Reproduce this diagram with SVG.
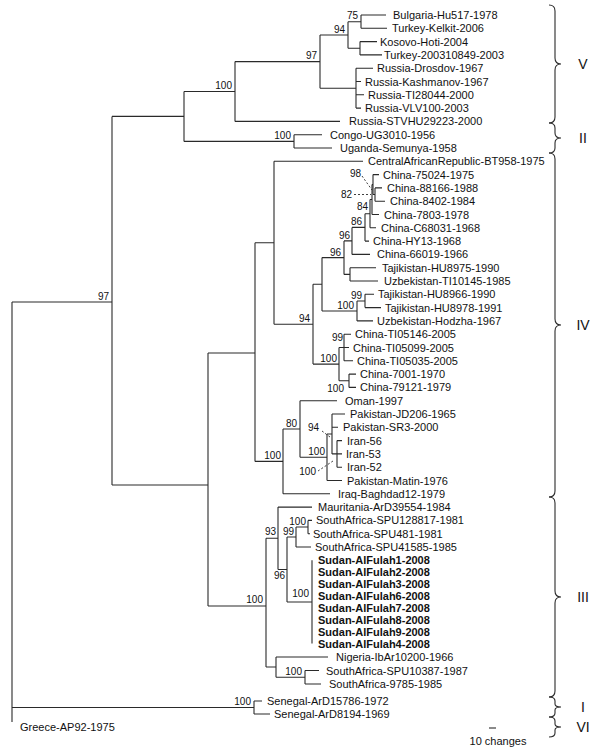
<svg xmlns="http://www.w3.org/2000/svg" width="600" height="749" viewBox="0 0 600 749">
<style>
.br{fill:none;stroke:#2a2a2a;stroke-width:1.1}
.ds{fill:none;stroke:#2a2a2a;stroke-width:0.9;stroke-dasharray:2,2}
.lf{font-family:"Liberation Sans",Arial,sans-serif;font-size:11px;fill:#111}
.bd{font-family:"Liberation Sans",Arial,sans-serif;font-size:11px;font-weight:bold;fill:#111}
.bs{font-family:"Liberation Sans",Arial,sans-serif;font-size:10px;fill:#111;text-anchor:end}
.gl{font-family:"Liberation Sans",Arial,sans-serif;font-size:14px;fill:#111;text-anchor:middle}
.bc{fill:none;stroke:#2a2a2a;stroke-width:1.1}
</style>
<rect width="600" height="749" fill="#fff"/>
<g id="connectors">
<path class="br" d="M12,302V722M12,302H112M12,707.5H254"/>
<path class="br" d="M112,116.4V485M112,116.4H184M112,485H208"/>
<path class="br" d="M184,91.5V141.4M184,91.5H235M184,141.4H294"/>
<path class="br" d="M235,61.6V121.4M235,61.6H320M235,121.4H340"/>
<path class="br" d="M320,35V88.2M320,35H348M320,88.2H356"/>
<path class="br" d="M348,21.7V48.3M348,21.7H361M348,48.3H360"/>
<path class="br" d="M361,15V28.3M361,15H386M361,28.3H387"/>
<path class="br" d="M360,41.6V54.9M360,41.6H377M360,54.9H382"/>
<path class="br" d="M356,68.2V108.1M356,68.2H373M356,81.5H361M356,94.8H364M356,108.1H361"/>
<path class="br" d="M294,134.7V148M294,134.7H322M294,148H332"/>
<path class="br" d="M208,353V606M208,353H255M208,606H266"/>
<path class="br" d="M255,242.8V461.4M255,242.8H274M255,461.4H283"/>
<path class="br" d="M274,161.3V324.2M274,161.3H363M274,324.2H313"/>
<path class="br" d="M313,284.3V364.1M313,284.3H322M313,364.1H339"/>
<path class="br" d="M322,257.6V311M322,257.6H344M322,311H357"/>
<path class="br" d="M344,240.9V274.4M344,240.9H352M344,274.4H350"/>
<path class="br" d="M352,227.4V254.4M352,227.4H365M352,254.4H370"/>
<path class="br" d="M365,213.7V241.1M365,213.7H370M365,241.1H369"/>
<path class="br" d="M370,199.5V227.8M370,199.5H372M370,227.8H376"/>
<path class="br" d="M372,184.6V214.5M372,184.6H373M372,214.5H379"/>
<path class="br" d="M373,174.6V194.5M373,174.6H379M373,194.5H375"/>
<path class="br" d="M375,187.9V201.2M375,187.9H382M375,201.2H385"/>
<path class="br" d="M350,267.7V281M350,267.7H376M350,281H378"/>
<path class="br" d="M357,301V320.9M357,301H365M357,320.9H373"/>
<path class="br" d="M365,294.3V307.6M365,294.3H374M365,307.6H381"/>
<path class="br" d="M339,347.5V380.8M339,347.5H344M339,380.8H349"/>
<path class="br" d="M344,334.2V360.8M344,334.2H351M344,347.5H349M344,360.8H353"/>
<path class="br" d="M349,374.1V387.4M349,374.1H356M349,387.4H356"/>
<path class="br" d="M283,429V493.8M283,429H300M283,493.8H330"/>
<path class="br" d="M300,400.7V457.3M300,400.7H337M300,457.3H327"/>
<path class="br" d="M327,434V480.5M327,434H332M327,480.5H342"/>
<path class="br" d="M332,414V453.9M332,414H345M332,427.3H338M332,453.9H337"/>
<path class="br" d="M337,440.6V467.2M337,440.6H342M337,453.9H342M337,467.2H342"/>
<path class="br" d="M266,538.3V667M266,538.3H278M266,667H276"/>
<path class="br" d="M278,507.1V569.5M278,507.1H312M278,569.5H287"/>
<path class="br" d="M287,537V602M287,537H296M287,602H312"/>
<path class="br" d="M296,527V547M296,527H308M296,547H311"/>
<path class="br" d="M308,520.4V533.7M308,520.4H312M308,533.7H310"/>
<path class="br" d="M312,560.3V643.6"/>
<path class="br" d="M276,657V677.3M276,657H328M276,677.3H305"/>
<path class="br" d="M305,670.5V684M305,670.5H319M305,684H321"/>
<path class="br" d="M254,701V714M254,701H262M254,714H270"/>
<path class="ds" d="M362,176L372,190M354,194.5H371M322,431L330,437M318,471L333,461"/>
<path class="br" d="M489,728H496"/>
</g>
<g id="bootstrap">
<text class="bs" x="109" y="300">97</text>
<text class="bs" x="232" y="89">100</text>
<text class="bs" x="317" y="59">97</text>
<text class="bs" x="345" y="32.5">94</text>
<text class="bs" x="358" y="19">75</text>
<text class="bs" x="291" y="139">100</text>
<text class="bs" x="361" y="177">98</text>
<text class="bs" x="352" y="197.5">82</text>
<text class="bs" x="368" y="210">84</text>
<text class="bs" x="362" y="225">86</text>
<text class="bs" x="350" y="238.5">96</text>
<text class="bs" x="341" y="256">96</text>
<text class="bs" x="362" y="298.5">99</text>
<text class="bs" x="354" y="309">100</text>
<text class="bs" x="310" y="322">94</text>
<text class="bs" x="343" y="341">99</text>
<text class="bs" x="337" y="361.5">100</text>
<text class="bs" x="344" y="391.5">100</text>
<text class="bs" x="281" y="459">100</text>
<text class="bs" x="297" y="427">80</text>
<text class="bs" x="325" y="455">100</text>
<text class="bs" x="319" y="430.5">94</text>
<text class="bs" x="316" y="474.5">100</text>
<text class="bs" x="263" y="603">100</text>
<text class="bs" x="276" y="535">93</text>
<text class="bs" x="294" y="535">99</text>
<text class="bs" x="306" y="525">100</text>
<text class="bs" x="285" y="579">96</text>
<text class="bs" x="309" y="597">100</text>
<text class="bs" x="302" y="675">100</text>
<text class="bs" x="251" y="704.5">100</text>
</g>
<g id="leaf-bulgaria"><text class="lf" x="393" y="19">Bulgaria-Hu517-1978</text></g>
<g id="leaf-turkey-kelkit"><text class="lf" x="392" y="32.3">Turkey-Kelkit-2006</text></g>
<g id="leaf-kosovo"><text class="lf" x="380" y="45.6">Kosovo-Hoti-2004</text></g>
<g id="leaf-turkey-2003"><text class="lf" x="384" y="58.9">Turkey-200310849-2003</text></g>
<g id="leaf-russia-drosdov"><text class="lf" x="377" y="72.2">Russia-Drosdov-1967</text></g>
<g id="leaf-russia-kashmanov"><text class="lf" x="365" y="85.5">Russia-Kashmanov-1967</text></g>
<g id="leaf-russia-ti28044"><text class="lf" x="368" y="98.8">Russia-TI28044-2000</text></g>
<g id="leaf-russia-vlv100"><text class="lf" x="365" y="112.1">Russia-VLV100-2003</text></g>
<g id="leaf-russia-stvhu"><text class="lf" x="349" y="125.4">Russia-STVHU29223-2000</text></g>
<g id="leaf-congo"><text class="lf" x="330" y="138.7">Congo-UG3010-1956</text></g>
<g id="leaf-uganda"><text class="lf" x="340" y="152">Uganda-Semunya-1958</text></g>
<g id="leaf-car"><text class="lf" x="368" y="165.3">CentralAfricanRepublic-BT958-1975</text></g>
<g id="leaf-china-75024"><text class="lf" x="383" y="178.6">China-75024-1975</text></g>
<g id="leaf-china-88166"><text class="lf" x="387" y="191.9">China-88166-1988</text></g>
<g id="leaf-china-8402"><text class="lf" x="390" y="205.2">China-8402-1984</text></g>
<g id="leaf-china-7803"><text class="lf" x="384" y="218.5">China-7803-1978</text></g>
<g id="leaf-china-c68031"><text class="lf" x="381" y="231.8">China-C68031-1968</text></g>
<g id="leaf-china-hy13"><text class="lf" x="373" y="245.1">China-HY13-1968</text></g>
<g id="leaf-china-66019"><text class="lf" x="377" y="258.4">China-66019-1966</text></g>
<g id="leaf-tajik-hu8975"><text class="lf" x="382" y="271.7">Tajikistan-HU8975-1990</text></g>
<g id="leaf-uzbek-ti10145"><text class="lf" x="384" y="285">Uzbekistan-TI10145-1985</text></g>
<g id="leaf-tajik-hu8966"><text class="lf" x="378" y="298.3">Tajikistan-HU8966-1990</text></g>
<g id="leaf-tajik-hu8978"><text class="lf" x="385" y="311.6">Tajikistan-HU8978-1991</text></g>
<g id="leaf-uzbek-hodzha"><text class="lf" x="377" y="324.9">Uzbekistan-Hodzha-1967</text></g>
<g id="leaf-china-ti05146"><text class="lf" x="355" y="338.2">China-TI05146-2005</text></g>
<g id="leaf-china-ti05099"><text class="lf" x="353" y="351.5">China-TI05099-2005</text></g>
<g id="leaf-china-ti05035"><text class="lf" x="357" y="364.8">China-TI05035-2005</text></g>
<g id="leaf-china-7001"><text class="lf" x="360" y="378.1">China-7001-1970</text></g>
<g id="leaf-china-79121"><text class="lf" x="360" y="391.4">China-79121-1979</text></g>
<g id="leaf-oman"><text class="lf" x="345" y="404.7">Oman-1997</text></g>
<g id="leaf-pakistan-jd206"><text class="lf" x="350" y="418">Pakistan-JD206-1965</text></g>
<g id="leaf-pakistan-sr3"><text class="lf" x="343" y="431.3">Pakistan-SR3-2000</text></g>
<g id="leaf-iran-56"><text class="lf" x="347" y="444.6">Iran-56</text></g>
<g id="leaf-iran-53"><text class="lf" x="346" y="457.9">Iran-53</text></g>
<g id="leaf-iran-52"><text class="lf" x="347" y="471.2">Iran-52</text></g>
<g id="leaf-pakistan-matin"><text class="lf" x="347" y="484.5">Pakistan-Matin-1976</text></g>
<g id="leaf-iraq"><text class="lf" x="338" y="497.8">Iraq-Baghdad12-1979</text></g>
<g id="leaf-mauritania"><text class="lf" x="318" y="511.1">Mauritania-ArD39554-1984</text></g>
<g id="leaf-sa-spu128817"><text class="lf" x="316" y="524.4">SouthAfrica-SPU128817-1981</text></g>
<g id="leaf-sa-spu481"><text class="lf" x="313" y="537.7">SouthAfrica-SPU481-1981</text></g>
<g id="leaf-sa-spu41585"><text class="lf" x="315" y="551">SouthAfrica-SPU41585-1985</text></g>
<g id="leaf-sudan-1"><text class="bd" x="318" y="564.3">Sudan-AlFulah1-2008</text></g>
<g id="leaf-sudan-2"><text class="bd" x="318" y="576.2">Sudan-AlFulah2-2008</text></g>
<g id="leaf-sudan-3"><text class="bd" x="318" y="588.1">Sudan-AlFulah3-2008</text></g>
<g id="leaf-sudan-6"><text class="bd" x="318" y="600">Sudan-AlFulah6-2008</text></g>
<g id="leaf-sudan-7"><text class="bd" x="318" y="611.9">Sudan-AlFulah7-2008</text></g>
<g id="leaf-sudan-8"><text class="bd" x="318" y="623.8">Sudan-AlFulah8-2008</text></g>
<g id="leaf-sudan-9"><text class="bd" x="318" y="635.7">Sudan-AlFulah9-2008</text></g>
<g id="leaf-sudan-4"><text class="bd" x="318" y="647.6">Sudan-AlFulah4-2008</text></g>
<g id="leaf-nigeria"><text class="lf" x="336" y="661">Nigeria-IbAr10200-1966</text></g>
<g id="leaf-sa-spu10387"><text class="lf" x="326" y="674.5">SouthAfrica-SPU10387-1987</text></g>
<g id="leaf-sa-9785"><text class="lf" x="329" y="688">SouthAfrica-9785-1985</text></g>
<g id="leaf-senegal-15786"><text class="lf" x="267" y="705">Senegal-ArD15786-1972</text></g>
<g id="leaf-senegal-8194"><text class="lf" x="274" y="718">Senegal-ArD8194-1969</text></g>
<g id="leaf-greece"><text class="lf" x="20" y="731">Greece-AP92-1975</text></g>
<g id="scale"><text class="lf" x="498" y="745" text-anchor="middle">10 changes</text></g>
<g id="genotype-V"><path class="bc" d="M549,5Q555,5 555,11V58Q555,64 561,64Q555,64 555,70V117Q555,123 549,123"/><text class="gl" x="583" y="69">V</text></g>
<g id="genotype-II"><path class="bc" d="M549,123Q555,123 555,128V133Q555,138 561,138Q555,138 555,143V148Q555,153 549,153"/><text class="gl" x="583" y="143">II</text></g>
<g id="genotype-IV"><path class="bc" d="M549,153Q555,153 555,159V319Q555,325 561,325Q555,325 555,331V491Q555,497 549,497"/><text class="gl" x="583" y="330">IV</text></g>
<g id="genotype-III"><path class="bc" d="M549,497Q555,497 555,503V591Q555,597 561,597Q555,597 555,603V691Q555,697 549,697"/><text class="gl" x="583" y="602">III</text></g>
<g id="genotype-I"><path class="bc" d="M549,697Q555,697 555,701V704Q555,707 561,707Q555,707 555,710V713Q555,717 549,717"/><text class="gl" x="583" y="712">I</text></g>
<g id="genotype-VI"><path class="bc" d="M549,717Q555,717 555,721V724Q555,727 561,727Q555,727 555,730V733Q555,737 549,737"/><text class="gl" x="583" y="732">VI</text></g>
</svg>
